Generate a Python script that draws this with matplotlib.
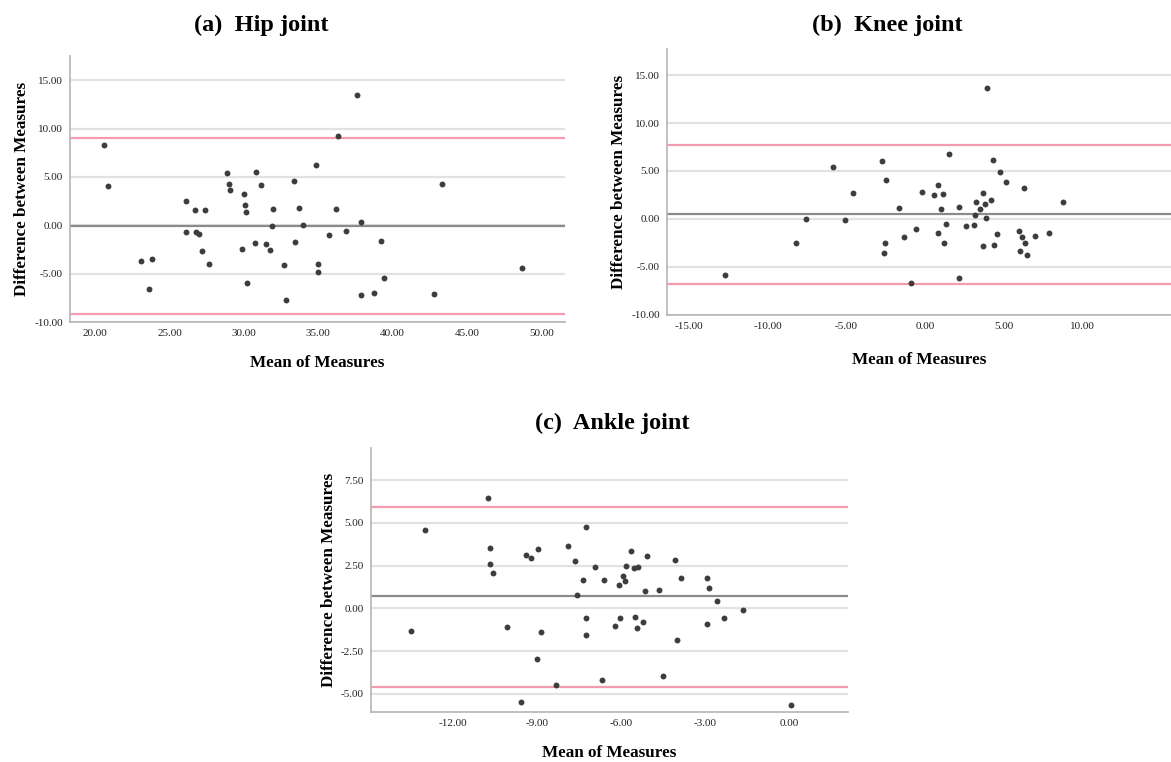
import numpy as np
import matplotlib
matplotlib.use("Agg")
import matplotlib.pyplot as plt

# --- data ---
hip_mean = [20.58, 20.83, 23.05, 23.61, 23.79, 26.10, 26.10, 26.70, 26.77, 27.00,
            27.15, 27.38, 27.65, 28.83, 28.97, 29.04, 29.84, 30.02, 30.09, 30.13,
            30.22, 30.72, 30.78, 31.17, 31.46, 31.75, 31.91, 31.97, 32.67, 32.85,
            33.39, 33.45, 33.68, 33.99, 34.84, 34.98, 35.00, 35.70, 36.21, 36.35,
            36.84, 37.58, 37.85, 37.89, 38.77, 39.19, 39.44, 42.76, 43.34, 48.70]
hip_diff = [8.35, 4.05, -3.68, -6.63, -3.47, 2.51, -0.72, 1.55, -0.65, -0.86,
            -2.71, 1.62, -4.02, 5.40, 4.26, 3.64, -2.41, 3.26, 2.06, 1.37,
            -6.01, -1.82, 5.46, 4.19, -1.96, -2.51, -0.03, 1.65, -4.09, -7.77,
            4.60, -1.72, 1.82, 0.07, 6.19, -4.02, -4.78, -1.00, 1.72, 9.24,
            -0.62, 13.50, 0.38, -7.25, -7.04, -1.65, -5.50, -7.06, 4.28, -4.45]
hip_lines = [-0.1, 9.0, -9.2]   # mean, upper LoA, lower LoA

knee_mean = [-12.73, -8.24, -7.56, -5.85, -5.08, -4.60, -2.75, -2.50, -2.56, -2.61,
             -1.67, -1.33, -0.93, -0.57, -0.23, 0.53, 0.81, 0.78, 1.02, 1.14,
             1.19, 1.31, 1.50, 2.16, 2.16, 2.58, 3.07, 3.18, 3.24, 3.50,
             3.69, 3.69, 3.81, 3.86, 3.94, 4.19, 4.30, 4.39, 4.53, 4.72,
             5.11, 5.97, 6.04, 6.12, 6.29, 6.33, 6.46, 6.95, 7.86, 8.77]
knee_diff = [-5.82, -2.48, -0.03, 5.44, -0.17, 2.69, 6.07, 4.05, -2.55, -3.52,
             1.15, -1.88, -6.66, -1.08, 2.76, 2.48, 3.49, -1.46, 1.08, 2.62,
             -2.51, -0.49, 6.73, 1.26, -6.17, -0.77, -0.66, 0.35, 1.78, 1.05,
             2.72, -2.83, 1.50, 0.10, 13.71, 1.99, 6.17, -2.76, -1.60, 4.88,
             3.80, -1.22, -3.38, -1.88, 3.24, -2.55, -3.77, -1.81, -1.43, 1.74]
knee_lines = [0.52, 7.74, -6.80]

ankle_mean = [-13.50, -13.01, -10.77, -10.67, -10.69, -10.57, -10.06, -9.57, -9.40, -9.23,
              -8.99, -8.96, -8.86, -8.31, -7.89, -7.63, -7.57, -7.37, -7.26, -7.27,
              -7.24, -6.95, -6.70, -6.60, -6.21, -6.06, -6.05, -5.94, -5.85, -5.82,
              -5.63, -5.55, -5.49, -5.45, -5.40, -5.21, -5.15, -5.06, -4.64, -4.51,
              -4.07, -3.99, -3.87, -2.95, -2.95, -2.87, -2.57, -2.33, -1.65, 0.08]
ankle_diff = [-1.33, 4.56, 6.48, 3.52, 2.60, 2.05, -1.10, -5.50, 3.11, 2.95,
              -2.94, 3.48, -1.39, -4.46, 3.64, 2.76, 0.78, 1.64, -0.59, -1.57,
              4.77, 2.41, -4.17, 1.64, -1.06, 1.37, -0.59, 1.90, 1.62, 2.49,
              3.37, 2.39, -0.51, -1.14, 2.43, -0.80, 1.00, 3.07, 1.10, -3.97,
              2.82, -1.88, 1.78, 1.76, -0.92, 1.17, 0.43, -0.57, -0.12, -5.64]
ankle_lines = [0.70, 5.91, -4.60]

W, H = 1171, 762
fig = plt.figure(figsize=(W / 100, H / 100), dpi=100)
fig.patch.set_facecolor("white")

SERIF = ["Liberation Serif", "DejaVu Serif"]
GRID = "#e2e2e2"
PINK = "#f59bb0"
MEANC = "#8a8a8a"
DOT = "#3d3d3d"
SPINE = "#b5b5b5"


def px_axes(left, top, right, bottom):
    return fig.add_axes([left / W, 1 - bottom / H, (right - left) / W, (bottom - top) / H])


def panel(ax, xs, ys, lines, xlim, ylim, xticks, yticks, title, title_xy, xpad, ypad):
    ax.set_xlim(*xlim)
    ax.set_ylim(*ylim)
    ax.set_xticks(xticks)
    ax.set_yticks(yticks)
    ax.set_xticklabels([f"{t:.2f}" for t in xticks], family=SERIF, fontsize=8, color="#222222")
    ax.set_yticklabels([f"{t:.2f}" for t in yticks], family=SERIF, fontsize=8, color="#222222")
    ax.tick_params(length=0, pad=5)
    for t in yticks:
        ax.axhline(t, color=GRID, lw=1.6, zorder=1)
    ax.axhline(lines[0], color=MEANC, lw=1.6, zorder=2)
    ax.axhline(lines[1], color=PINK, lw=1.6, zorder=2)
    ax.axhline(lines[2], color=PINK, lw=1.6, zorder=2)
    ax.scatter(xs, ys, s=18, color=DOT, zorder=3, linewidths=0)
    for s in ["top", "right"]:
        ax.spines[s].set_visible(False)
    for s in ["left", "bottom"]:
        ax.spines[s].set_color(SPINE)
        ax.spines[s].set_linewidth(1.2)
    ax.set_xlabel("Mean of Measures", family=SERIF, fontsize=12.3, fontweight="bold", labelpad=xpad)
    ax.set_ylabel("Difference between Measures", family=SERIF, fontsize=12.3, fontweight="bold", labelpad=ypad)
    fig.text(title_xy[0] / W, 1 - title_xy[1] / H, title, family=SERIF, fontsize=17.5,
             fontweight="bold", ha="center", va="center")


# (a) Hip
ax1 = px_axes(70, 56, 565, 322)
panel(ax1, hip_mean, hip_diff, hip_lines, (18.3, 51.6), (-10.0, 17.5),
      [20, 25, 30, 35, 40, 45, 50], [-10, -5, 0, 5, 10, 15],
      "(a)  Hip joint", (261, 25), 12, 3)

# (b) Knee
ax2 = px_axes(667, 49, 1171, 315)
panel(ax2, knee_mean, knee_diff, knee_lines, (-16.4, 15.6), (-10.05, 17.75),
      [-15, -10, -5, 0, 5, 10], [-10, -5, 0, 5, 10, 15],
      "(b)  Knee joint", (887, 25), 15, 3)

# (c) Ankle
ax3 = px_axes(371, 448, 848, 712)
panel(ax3, ankle_mean, ankle_diff, ankle_lines, (-14.93, 2.1), (-6.07, 9.39),
      [-12, -9, -6, -3, 0], [-5, -2.5, 0, 2.5, 5, 7.5],
      "(c)  Ankle joint", (612, 423), 12, 3)

fig.savefig("out.png", dpi=100)
